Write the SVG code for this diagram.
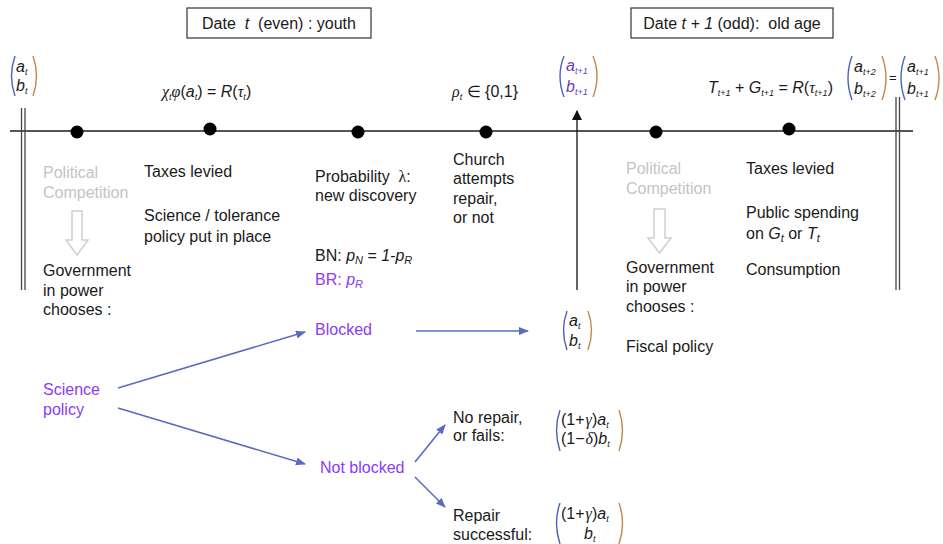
<svg xmlns="http://www.w3.org/2000/svg" width="943" height="544" viewBox="0 0 943 544">
<style>
  text { font-family: "Liberation Sans", Arial, sans-serif; fill: #1a1a1a; }
  .t { font-size: 16px; }
  .gray { fill: #c4c4c4; }
  .pur { fill: #8a3cf5; }
  .m { font-size: 16px; font-style: italic; }
  .sub { font-size: 9px; font-style: italic; }
  .gr { font-family: "Liberation Serif", "Times New Roman", serif; font-style: italic; }
  .f { font-size: 16px; }
  .lp { fill: none; stroke: #4a63b8; stroke-width: 1.4; }
  .rp { fill: none; stroke: #c08a4a; stroke-width: 1.4; }
  .conn { fill: none; stroke: #5b6bc0; stroke-width: 1.6; }
  .hollow { fill: #ffffff; stroke: #cfcfcf; stroke-width: 1.5; }
  .box { fill: #ffffff; stroke: #333333; stroke-width: 1.2; }
  .vp { fill: #6a38c8; }
</style>
<defs>
  <marker id="ah" markerWidth="10" markerHeight="8" refX="9" refY="4" orient="auto" markerUnits="userSpaceOnUse">
    <path d="M0,0 L10,4 L0,8 z" fill="#5b6bc0"/>
  </marker>
  <marker id="ahk" markerWidth="10" markerHeight="10" refX="9" refY="5" orient="auto" markerUnits="userSpaceOnUse">
    <path d="M0,0 L10,5 L0,10 z" fill="#111111"/>
  </marker>
</defs>
<rect width="943" height="544" fill="#ffffff"/>

<!-- Date boxes -->
<g id="date-t">
  <rect class="box" x="187" y="8" width="184" height="30"/>
  <text class="t" x="279" y="29" text-anchor="middle" xml:space="preserve">Date  <tspan font-style="italic">t</tspan>  (even) : youth</text>
</g>
<g id="date-t1">
  <rect class="box" x="631" y="8" width="202" height="30"/>
  <text class="t" x="732" y="29" text-anchor="middle" xml:space="preserve">Date <tspan font-style="italic">t + 1</tspan> (odd):  old age</text>
</g>

<!-- Timeline -->
<g id="timeline">
  <line x1="10" y1="131" x2="913" y2="131" stroke="#555555" stroke-width="2"/>
  <line x1="21.5" y1="108" x2="21.5" y2="290" stroke="#444" stroke-width="1.3"/>
  <line x1="25" y1="108" x2="25" y2="290" stroke="#444" stroke-width="1.3"/>
  <line x1="896" y1="97" x2="896" y2="290" stroke="#444" stroke-width="1.3"/>
  <line x1="899.5" y1="97" x2="899.5" y2="290" stroke="#444" stroke-width="1.3"/>
  <circle cx="77" cy="132" r="6.5" fill="#000"/>
  <circle cx="210" cy="129" r="6.5" fill="#000"/>
  <circle cx="358" cy="132" r="6.5" fill="#000"/>
  <circle cx="486" cy="132" r="6.5" fill="#000"/>
  <circle cx="656" cy="132" r="6.5" fill="#000"/>
  <circle cx="789" cy="129" r="6.5" fill="#000"/>
</g>

<!-- Top matrices / formulas -->
<g id="state-t">
  <path class="lp" d="M15,56 Q8,76 15,96"/>
  <path class="rp" d="M33,56 Q40,76 33,96"/>
  <text class="m" x="16" y="72">a<tspan class="sub" dy="3">t</tspan></text>
  <text class="m" x="16" y="91">b<tspan class="sub" dy="3">t</tspan></text>
</g>
<g id="formula-chi">
  <text class="f" x="162" y="97" font-size="17"><tspan class="gr">χ</tspan><tspan class="sub" dy="3">t</tspan><tspan class="gr" dy="-3">φ</tspan>(<tspan font-style="italic">a</tspan><tspan class="sub" dy="3">t</tspan><tspan dy="-3">) = </tspan><tspan font-style="italic">R</tspan>(<tspan class="gr">τ</tspan><tspan class="sub" dy="3">t</tspan><tspan dy="-3">)</tspan></text>
</g>
<g id="formula-rho">
  <text class="f" x="452" y="97"><tspan class="gr">ρ</tspan><tspan class="sub" dy="3">t</tspan><tspan dy="-3"> ∈ {0,1}</tspan></text>
</g>
<g id="state-t1">
  <path class="lp" d="M564,56 Q556,76 564,97"/>
  <path class="rp" d="M593,56 Q601,76 593,97"/>
  <text class="m vp" x="566" y="71">a<tspan class="sub vp" dy="3">t+1</tspan></text>
  <text class="m vp" x="566" y="92">b<tspan class="sub vp" dy="3">t+1</tspan></text>
</g>
<g id="formula-T">
  <text class="f" x="708" y="93"><tspan font-style="italic">T</tspan><tspan class="sub" dy="3">t+1</tspan><tspan dy="-3"> + </tspan><tspan font-style="italic">G</tspan><tspan class="sub" dy="3">t+1</tspan><tspan dy="-3"> = </tspan><tspan font-style="italic">R</tspan>(<tspan class="gr">τ</tspan><tspan class="sub" dy="3">t+1</tspan><tspan dy="-3">)</tspan></text>
</g>
<g id="state-t2">
  <path class="lp" d="M852,56 Q844,78 852,100"/>
  <path class="rp" d="M882,56 Q890,78 882,100"/>
  <text class="m" x="854" y="72">a<tspan class="sub" dy="3">t+2</tspan></text>
  <text class="m" x="854" y="94">b<tspan class="sub" dy="3">t+2</tspan></text>
  <text x="889" y="82" font-size="13">=</text>
  <path class="lp" d="M905,56 Q897,78 905,100"/>
  <path class="rp" d="M935,56 Q943,78 935,100"/>
  <text class="m" x="907" y="72">a<tspan class="sub" dy="3">t+1</tspan></text>
  <text class="m" x="907" y="94">b<tspan class="sub" dy="3">t+1</tspan></text>
</g>

<!-- Youth column texts -->
<g id="political-1">
  <text class="t gray" x="43" y="178">Political</text>
  <text class="t gray" x="43" y="198">Competition</text>
  <polygon class="hollow" points="72,211 82,211 82,240 88,240 77,255 66,240 72,240"/>
</g>
<g id="government-1">
  <text class="t" x="43" y="276">Government</text>
  <text class="t" x="43" y="296">in power</text>
  <text class="t" x="43" y="315">chooses :</text>
</g>
<g id="taxes-1">
  <text class="t" x="144" y="177">Taxes levied</text>
  <text class="t" x="144" y="221">Science / tolerance</text>
  <text class="t" x="144" y="242">policy put in place</text>
</g>
<g id="probability">
  <text class="t" x="315" y="182" xml:space="preserve">Probability  <tspan font-family="Liberation Serif, serif">λ</tspan>:</text>
  <text class="t" x="315" y="201">new discovery</text>
  <text class="t" x="315" y="261">BN: <tspan font-style="italic">p</tspan><tspan font-style="italic" font-size="11" dy="3">N</tspan><tspan dy="-3"> = </tspan><tspan font-style="italic">1-p</tspan><tspan font-style="italic" font-size="11" dy="3">R</tspan></text>
  <text class="t pur" x="315" y="285">BR: <tspan font-style="italic">p</tspan><tspan font-style="italic" font-size="11" dy="3">R</tspan></text>
</g>
<g id="church">
  <text class="t" x="453" y="165">Church</text>
  <text class="t" x="453" y="184">attempts</text>
  <text class="t" x="453" y="204">repair,</text>
  <text class="t" x="453" y="223">or not</text>
</g>

<!-- Old age column texts -->
<g id="political-2">
  <text class="t gray" x="626" y="174">Political</text>
  <text class="t gray" x="626" y="194">Competition</text>
  <polygon class="hollow" points="654,209 665,209 665,238 671,238 659.5,253 648,238 654,238"/>
</g>
<g id="government-2">
  <text class="t" x="626" y="273">Government</text>
  <text class="t" x="626" y="292">in power</text>
  <text class="t" x="626" y="312">chooses :</text>
  <text class="t" x="626" y="352">Fiscal policy</text>
</g>
<g id="taxes-2">
  <text class="t" x="746" y="174">Taxes levied</text>
  <text class="t" x="746" y="218">Public spending</text>
  <text class="t" x="746" y="239">on <tspan font-style="italic">G</tspan><tspan font-style="italic" font-size="11" dy="3">t</tspan><tspan dy="-3"> or </tspan><tspan font-style="italic">T</tspan><tspan font-style="italic" font-size="11" dy="3">t</tspan></text>
  <text class="t" x="746" y="275">Consumption</text>
</g>

<!-- Tree nodes -->
<g id="science-policy">
  <text class="t pur" x="43" y="395">Science</text>
  <text class="t pur" x="43" y="415">policy</text>
</g>
<g id="blocked">
  <text class="t pur" x="315" y="335">Blocked</text>
</g>
<g id="not-blocked">
  <text class="t pur" x="320" y="473">Not blocked</text>
</g>
<g id="no-repair">
  <text class="t" x="453" y="423">No repair,</text>
  <text class="t" x="453" y="441">or fails:</text>
</g>
<g id="repair">
  <text class="t" x="453" y="521">Repair</text>
  <text class="t" x="453" y="540">successful:</text>
</g>
<g id="state-blocked">
  <path class="lp" d="M567,311 Q560,330 567,350"/>
  <path class="rp" d="M588,311 Q595,330 588,350"/>
  <text class="m" x="569" y="326">a<tspan class="sub" dy="3">t</tspan></text>
  <text class="m" x="569" y="346">b<tspan class="sub" dy="3">t</tspan></text>
</g>
<g id="state-norepair">
  <path class="lp" d="M560,410 Q553,430 560,451"/>
  <path class="rp" d="M619,410 Q626,430 619,451"/>
  <text class="f" x="561" y="425">(1+<tspan class="gr" dx="1">γ</tspan>)<tspan font-style="italic">a</tspan><tspan class="sub" dy="3">t</tspan></text>
  <text class="f" x="561" y="444">(1−<tspan class="gr" dx="1">δ</tspan>)<tspan font-style="italic">b</tspan><tspan class="sub" dy="3">t</tspan></text>
</g>
<g id="state-repair">
  <path class="lp" d="M560,503 Q553,523 560,544"/>
  <path class="rp" d="M619,503 Q626,523 619,544"/>
  <text class="f" x="561" y="519">(1+<tspan class="gr" dx="1">γ</tspan>)<tspan font-style="italic">a</tspan><tspan class="sub" dy="3">t</tspan></text>
  <text class="m" x="584" y="539">b<tspan class="sub" dy="3">t</tspan></text>
</g>

<!-- Connectors -->
<g id="connectors">
  <line x1="577" y1="290" x2="577" y2="111" stroke="#111" stroke-width="1.3" marker-end="url(#ahk)"/>
  <line class="conn" x1="118" y1="388" x2="305" y2="332" marker-end="url(#ah)"/>
  <line class="conn" x1="118" y1="408" x2="305" y2="464" marker-end="url(#ah)"/>
  <line class="conn" x1="416" y1="331" x2="528" y2="331" marker-end="url(#ah)"/>
  <line class="conn" x1="415" y1="462" x2="445" y2="425" marker-end="url(#ah)"/>
  <line class="conn" x1="415" y1="477" x2="445" y2="507" marker-end="url(#ah)"/>
</g>
</svg>
